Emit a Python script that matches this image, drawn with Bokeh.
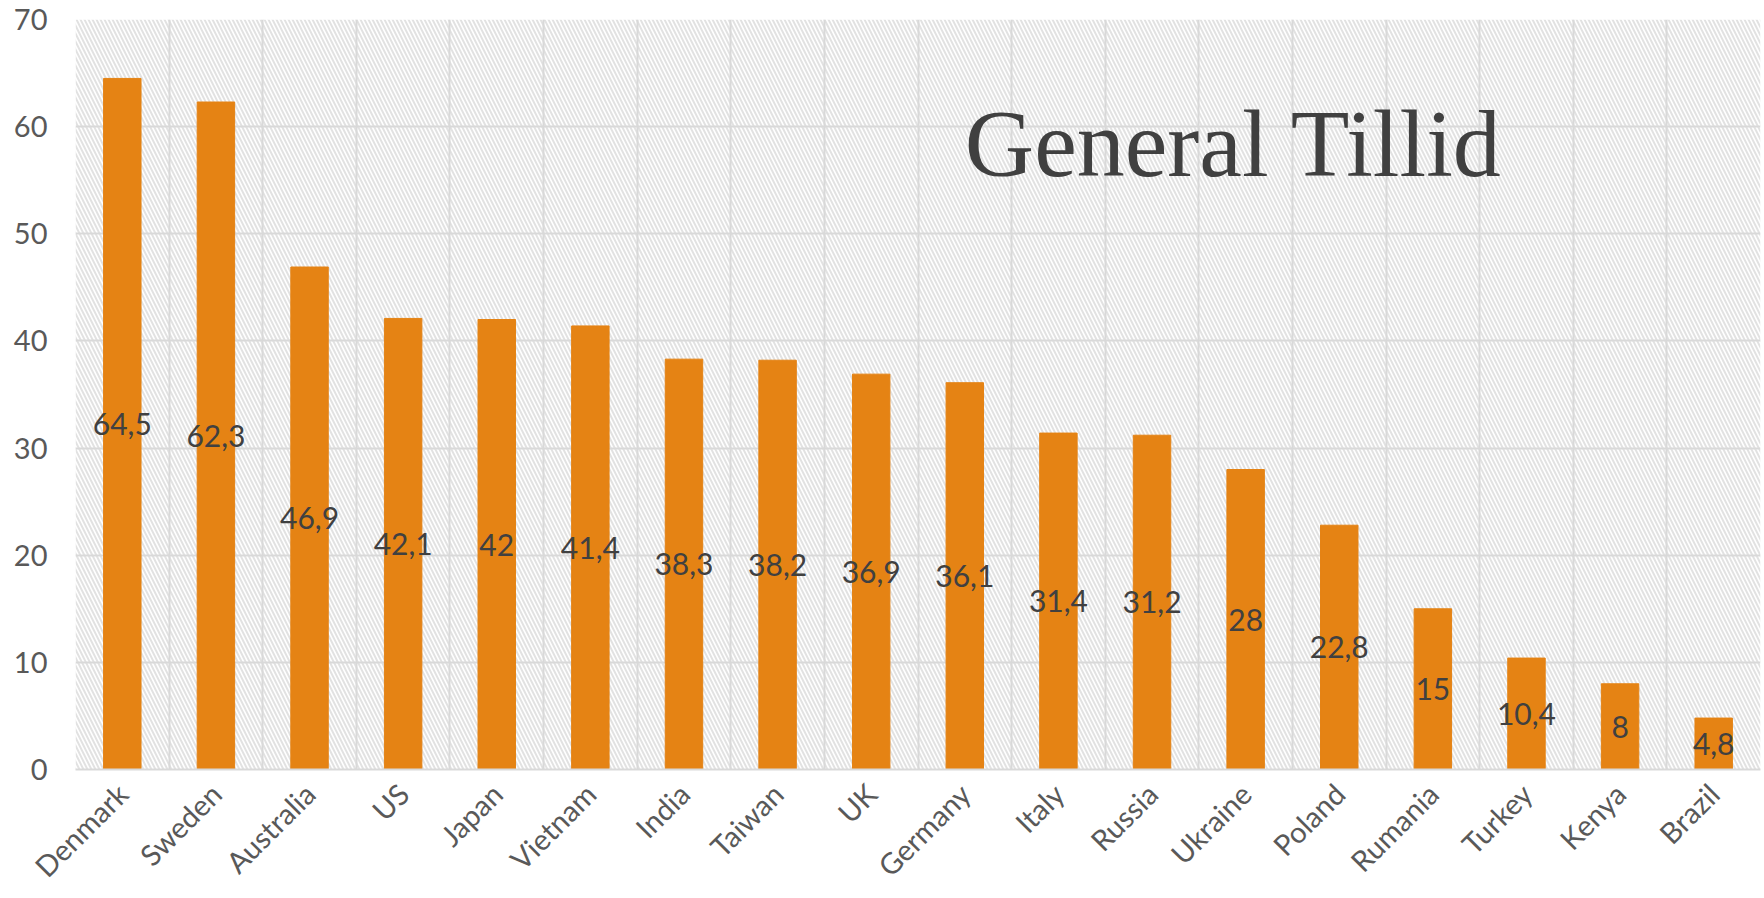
import numpy as np
from bokeh.plotting import figure
from bokeh.models import ColumnDataSource, FixedTicker, BoxAnnotation, Label, Range1d
from bokeh.embed import file_html
from bokeh.resources import INLINE
from bokeh.core.properties import value

countries = ["Denmark", "Sweden", "Australia", "US", "Japan", "Vietnam", "India",
             "Taiwan", "UK", "Germany", "Italy", "Russia", "Ukraine", "Poland",
             "Rumania", "Turkey", "Kenya", "Brazil"]
trust = [64.5, 62.3, 46.9, 42.1, 42, 41.4, 38.3, 38.2, 36.9, 36.1, 31.4, 31.2,
         28, 22.8, 15, 10.4, 8, 4.8]
y_ticks = [0, 10, 20, 30, 40, 50, 60, 70]
title_text = "General Tillid"

n = len(countries)
xc = [i + 0.5 for i in range(n)]
labels = [f"{v:g}".replace(".", ",") for v in trust]
src = ColumnDataSource(dict(x=xc, top=trust, mid=[v / 2 for v in trust], label=labels))

GRID = "#d9d9d9"
p = figure(width=1762, height=898, output_backend="svg", toolbar_location=None,
           x_range=Range1d(0, n), y_range=Range1d(0, 70),
           min_border_left=75, min_border_right=2, min_border_top=19,
           min_border_bottom=128)
p.outline_line_color = None
p.background_fill_color = "white"
p.border_fill_color = "white"

bg = BoxAnnotation(fill_color="white", fill_alpha=1.0, hatch_pattern="\\",
                   hatch_color="#e2e2e2", hatch_scale=8, hatch_weight=2,
                   line_color=None, level="image")
p.add_layout(bg)

p.xgrid.ticker = FixedTicker(ticks=list(range(n + 1)))
p.ygrid.ticker = FixedTicker(ticks=y_ticks)
for g in (p.xgrid, p.ygrid):
    g.grid_line_color = GRID
    g.grid_line_width = 2

p.vbar(x="x", top="top", bottom=0, width=0.4, color="#E58314", source=src)
p.text(x="x", y="mid", text="label", source=src, text_align="center",
       text_baseline="middle", text_font=value("Lato"),
       text_font_size=value("30px"), text_color="#404040")

p.xaxis.ticker = FixedTicker(ticks=xc)
p.xaxis.major_label_overrides = {xv: c for xv, c in zip(xc, countries)}
p.xaxis.major_label_orientation = np.pi / 4
p.xaxis.axis_line_color = GRID
p.xaxis.axis_line_width = 2
p.xaxis.major_label_standoff = 19
p.xaxis.major_label_text_font_size = "29px"

p.yaxis.ticker = FixedTicker(ticks=y_ticks)
p.yaxis.axis_line_color = None
p.yaxis.major_label_standoff = 28
p.yaxis.major_label_text_font_size = "29px"

for ax in (p.xaxis, p.yaxis):
    ax.major_tick_line_color = None
    ax.minor_tick_line_color = None
    ax.major_tick_out = 0
    ax.major_label_text_font = "Lato"
    ax.major_label_text_color = "#595959"

title = Label(x=9.5, y=58.4, text=title_text, text_font="Liberation Serif",
              text_font_size="96px", text_color="#404040",
              text_baseline="alphabetic", text_align="left")
p.add_layout(title)

open("out.html", "w").write(file_html(p, INLINE))
